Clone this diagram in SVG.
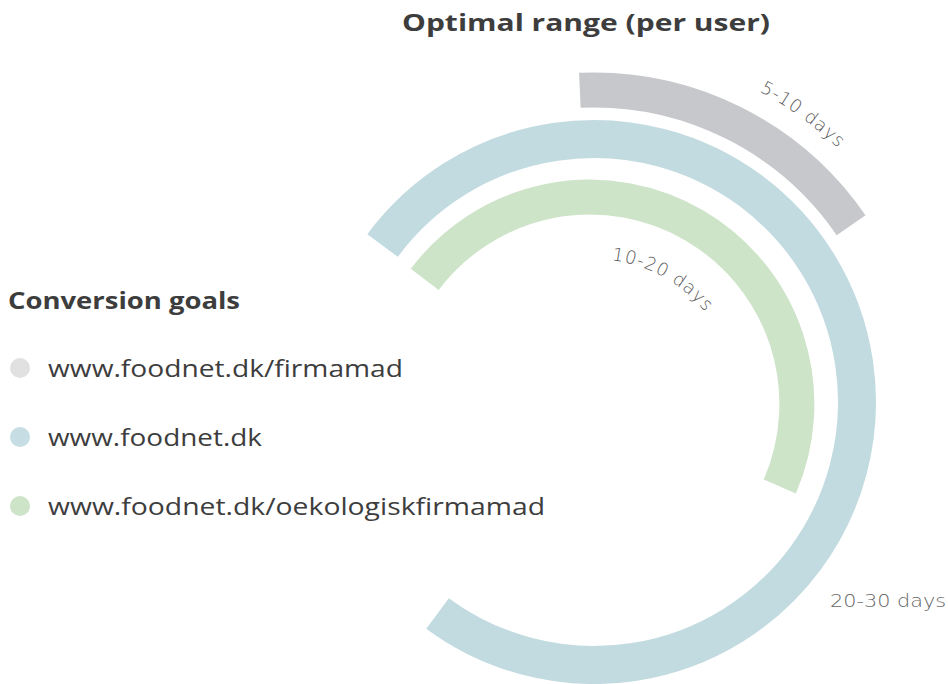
<svg xmlns="http://www.w3.org/2000/svg" width="948" height="684" viewBox="0 0 948 684">
  <style>
    .arc { fill: none; stroke-linecap: butt; }
    .title { font-family: "Open Sans", "Liberation Sans", sans-serif; font-weight: 700; font-size: 24px; fill: #3d3d3d; }
    .legend { font-family: "Open Sans", "Liberation Sans", sans-serif; font-weight: 400; font-size: 24px; fill: #3d3d3d; }
    .arclabel { font-family: "DejaVu Sans", sans-serif; font-weight: 200; font-size: 18px; letter-spacing: 1px; fill: #555555; }
  </style>
  <defs>
    <path id="p510" d="M630.79,51.93 A352,352 0 0 1 915.57,258.83"/>
    <path id="p1020" d="M591.7,259 A143,143 0 0 1 716.9,328.8"/>
  </defs>
  <rect width="948" height="684" fill="#ffffff"/>

  <text class="title" x="402" y="31" textLength="368" lengthAdjust="spacingAndGlyphs">Optimal range (per user)</text>

  <g id="connectors"></g>

  <g id="arc-firmamad">
    <path class="arc" d="M579.85,90.32 A312,312 0 0 1 851.13,225.28" stroke="#c6c8cc" stroke-width="35"/>
    <text class="arclabel"><textPath href="#p510" startOffset="50%" text-anchor="middle">5-10 days</textPath></text>
  </g>

  <g id="arc-foodnet">
    <path class="arc" d="M382.58,245.56 A263,263 0 1 1 437.56,613.42" stroke="#c2dbe0" stroke-width="38"/>
    <text x="830" y="607" textLength="116" lengthAdjust="spacingAndGlyphs" style="font-family: 'DejaVu Sans', sans-serif; font-weight: 300; font-size: 18px; fill: #666666">20-30 days</text>
  </g>

  <g id="arc-oekologisk">
    <path class="arc" d="M424.7,279.4 A207,207 0 0 1 779.8,486.5" stroke="#cde4c9" stroke-width="35"/>
    <text class="arclabel"><textPath href="#p1020" startOffset="50%" text-anchor="middle">10-20 days</textPath></text>
  </g>

  <g id="legend">
    <text class="title" x="8" y="309" textLength="232" lengthAdjust="spacingAndGlyphs">Conversion goals</text>
    <g id="legend-firmamad">
      <circle cx="20" cy="368" r="10" fill="#e1e1e1"/>
      <text class="legend" x="48" y="377" textLength="355" lengthAdjust="spacingAndGlyphs">www.foodnet.dk/firmamad</text>
    </g>
    <g id="legend-foodnet">
      <circle cx="20" cy="437" r="10" fill="#c5dde3"/>
      <text class="legend" x="48" y="446" textLength="214" lengthAdjust="spacingAndGlyphs">www.foodnet.dk</text>
    </g>
    <g id="legend-oekologisk">
      <circle cx="20" cy="506" r="10" fill="#cde4c9"/>
      <text class="legend" x="48" y="515" textLength="497" lengthAdjust="spacingAndGlyphs">www.foodnet.dk/oekologiskfirmamad</text>
    </g>
  </g>
</svg>
